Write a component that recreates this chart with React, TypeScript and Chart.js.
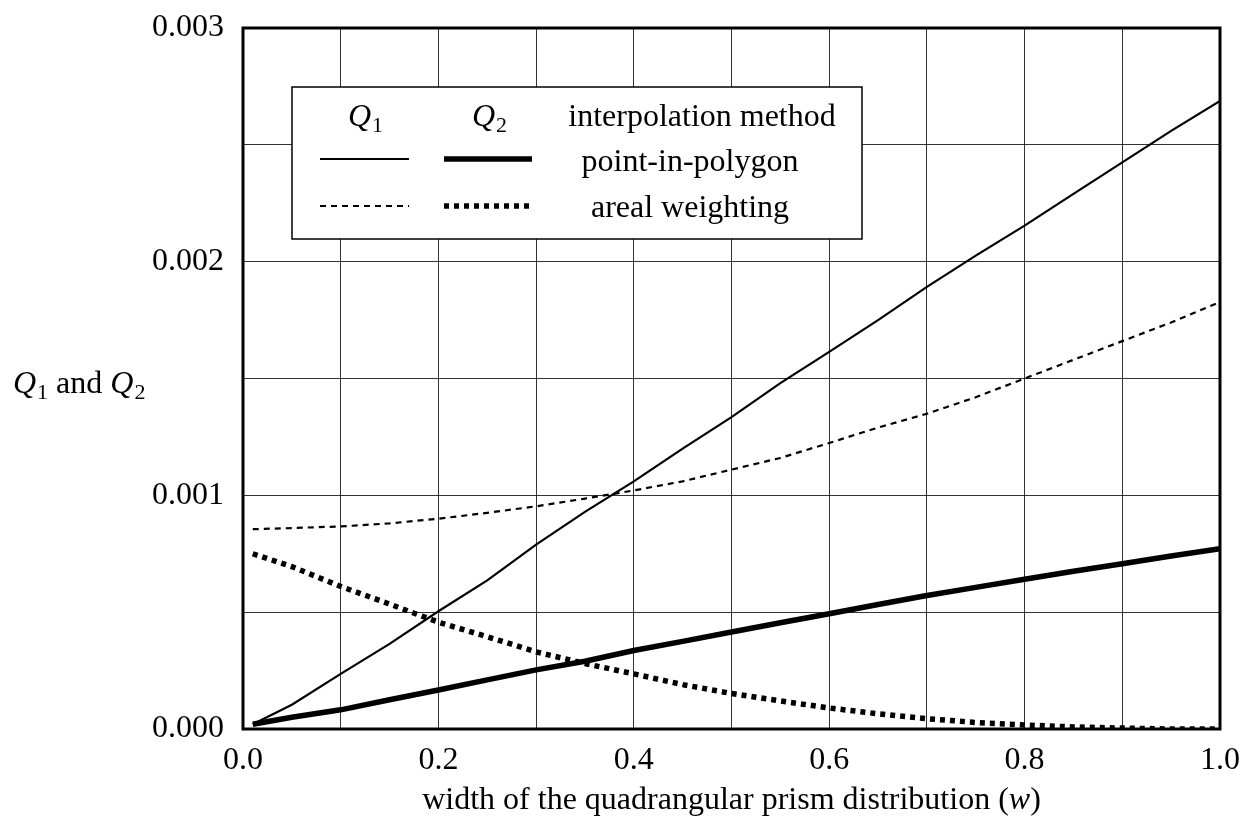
import React, { useEffect, useRef } from "react";
import { Chart, registerables } from "chart.js";

Chart.register(...registerables);

// Width of the quadrangular prism distribution (w)
const wValues = [
  0.01, 0.05, 0.1, 0.15, 0.2, 0.25, 0.3, 0.35, 0.4, 0.45, 0.5,
  0.55, 0.6, 0.65, 0.7, 0.75, 0.8, 0.85, 0.9, 0.95, 1.0,
];

// Q1, point-in-polygon interpolation
const q1PointInPolygon = [
  0.00002, 0.000104, 0.000236, 0.000364, 0.000504, 0.000636, 0.000789, 0.000929,
  0.00106, 0.0012, 0.001335, 0.00148, 0.001614, 0.00175, 0.001892, 0.002026,
  0.002154, 0.00229, 0.002425, 0.00256, 0.002688,
];

// Q2, point-in-polygon interpolation
const q2PointInPolygon = [
  0.00002, 0.00005, 0.000082, 0.000125, 0.000167, 0.00021, 0.000253, 0.00029,
  0.000336, 0.000375, 0.000415, 0.000455, 0.000493, 0.000533, 0.000571, 0.000606,
  0.000641, 0.000675, 0.000707, 0.00074, 0.000771,
];

// Q1, areal weighting interpolation
const q1ArealWeighting = [
  0.000855, 0.00086, 0.000867, 0.00088, 0.0009, 0.000925, 0.000953, 0.000986,
  0.001021, 0.00106, 0.00111, 0.00116, 0.001224, 0.00129, 0.001349, 0.00142,
  0.0015, 0.00158, 0.00166, 0.00174, 0.001827,
];

// Q2, areal weighting interpolation
const q2ArealWeighting = [
  0.00075, 0.000695, 0.00061, 0.000535, 0.000457, 0.000395, 0.00033, 0.00028,
  0.000236, 0.00019, 0.000152, 0.00012, 0.00009, 0.000065, 0.000044, 0.000028,
  0.000017, 0.000009, 0.000004, 0.0, 0.0,
];

const xTickLabels = ["0.0", "0.2", "0.4", "0.6", "0.8", "1.0"];
const yTickLabels = ["0.000", "0.001", "0.002", "0.003"];

const SERIF = "'Liberation Serif', 'Times New Roman', serif";
const FONT_SIZE = 32;

const toPoints = (ys: number[]) => wValues.map((x, i) => ({ x, y: ys[i] }));

// Draws text made of runs: [text, italic, subscript]
function drawRuns(
  ctx: CanvasRenderingContext2D,
  runs: [string, boolean, boolean][],
  x: number,
  baseline: number,
  align: "left" | "center"
) {
  const fontFor = (italic: boolean, sub: boolean) =>
    `${italic ? "italic " : ""}${sub ? 22 : FONT_SIZE}px ${SERIF}`;
  let total = 0;
  for (const [t, it, sub] of runs) {
    ctx.font = fontFor(it, sub);
    total += ctx.measureText(t).width;
  }
  let cx = align === "center" ? x - total / 2 : x;
  ctx.textAlign = "left";
  ctx.textBaseline = "alphabetic";
  for (const [t, it, sub] of runs) {
    ctx.font = fontFor(it, sub);
    ctx.fillText(t, cx + (sub ? 1 : 0), baseline + (sub ? 6 : 0));
    cx += ctx.measureText(t).width + (sub ? 1 : 0);
  }
}

const decorPlugin = {
  id: "decor",
  afterDatasetsDraw(chart: any) {
    const { ctx, chartArea } = chart;
    const { left, top, right, bottom } = chartArea;
    ctx.save();
    ctx.fillStyle = "#000";
    ctx.strokeStyle = "#000";

    // Frame around the plot area
    ctx.lineWidth = 3;
    ctx.strokeRect(left, top, right - left, bottom - top);

    // Legend box
    const bx = 292, by = 87, bw = 570, bh = 152;
    ctx.fillStyle = "#fff";
    ctx.fillRect(bx, by, bw, bh);
    ctx.lineWidth = 1.5;
    ctx.strokeRect(bx, by, bw, bh);
    ctx.fillStyle = "#000";

    drawRuns(ctx, [["Q", true, false], ["1", false, true]], 365, 126, "center");
    drawRuns(ctx, [["Q", true, false], ["2", false, true]], 489, 126, "center");
    drawRuns(ctx, [["interpolation method", false, false]], 702, 126, "center");
    drawRuns(ctx, [["point-in-polygon", false, false]], 690, 171, "center");
    drawRuns(ctx, [["areal weighting", false, false]], 690, 217, "center");

    const sample = (x1: number, x2: number, y: number, w: number, dash: number[]) => {
      ctx.beginPath();
      ctx.lineWidth = w;
      ctx.lineCap = "butt";
      ctx.setLineDash(dash);
      ctx.moveTo(x1, y);
      ctx.lineTo(x2, y);
      ctx.stroke();
      ctx.setLineDash([]);
    };
    sample(320, 409, 159, 2.2, []);
    sample(444, 532, 159, 5.5, []);
    sample(320, 409, 206, 2.2, [6, 5]);
    sample(444, 532, 206, 5.5, [5, 5]);

    // Axis titles
    drawRuns(
      ctx,
      [
        ["Q", true, false],
        ["1", false, true],
        [" and ", false, false],
        ["Q", true, false],
        ["2", false, true],
      ],
      13,
      393,
      "left"
    );
    drawRuns(
      ctx,
      [
        ["width of the quadrangular prism distribution (", false, false],
        ["w", true, false],
        [")", false, false],
      ],
      (left + right) / 2,
      809,
      "center"
    );
    ctx.restore();
  },
};

export default function App() {
  const canvasRef = useRef<HTMLCanvasElement | null>(null);

  useEffect(() => {
    if (!canvasRef.current) return;
    const chart = new Chart(canvasRef.current, {
      type: "line",
      data: {
        datasets: [
          {
            label: "Q1 point-in-polygon",
            data: toPoints(q1PointInPolygon),
            borderColor: "#000",
            borderWidth: 2.2,
            pointRadius: 0,
            tension: 0,
          },
          {
            label: "Q2 point-in-polygon",
            data: toPoints(q2PointInPolygon),
            borderColor: "#000",
            borderWidth: 5.5,
            pointRadius: 0,
            tension: 0,
          },
          {
            label: "Q1 areal weighting",
            data: toPoints(q1ArealWeighting),
            borderColor: "#000",
            borderWidth: 2.2,
            borderDash: [6, 5],
            pointRadius: 0,
            tension: 0,
          },
          {
            label: "Q2 areal weighting",
            data: toPoints(q2ArealWeighting),
            borderColor: "#000",
            borderWidth: 5.5,
            borderDash: [5, 5],
            borderCapStyle: "butt",
            pointRadius: 0,
            tension: 0,
          },
        ],
      },
      options: {
        responsive: false,
        animation: false,
        layout: { padding: { left: 0, right: 38, top: 28, bottom: 0 } },
        plugins: {
          legend: { display: false },
          tooltip: { enabled: false },
        },
        scales: {
          x: {
            type: "linear",
            min: 0,
            max: 1,
            afterFit: (scale: any) => {
              scale.height = 95;
              scale.paddingLeft = 0;
              scale.paddingRight = 0;
            },
            ticks: {
              stepSize: 0.1,
              maxRotation: 0,
              autoSkip: false,
              padding: 12,
              color: "#000",
              font: { family: SERIF, size: FONT_SIZE },
              callback: (v: any) => {
                const i = Math.round(Number(v) * 10);
                return i % 2 === 0 ? xTickLabels[i / 2] : "";
              },
            },
            grid: { color: "rgba(0,0,0,0.8)", lineWidth: 1, drawTicks: false },
            border: { display: false },
          },
          y: {
            type: "linear",
            min: 0,
            max: 0.003,
            afterFit: (scale: any) => {
              scale.width = 243;
              scale.paddingTop = 0;
              scale.paddingBottom = 0;
            },
            ticks: {
              stepSize: 0.0005,
              autoSkip: false,
              padding: 19,
              color: "#000",
              font: { family: SERIF, size: FONT_SIZE },
              callback: (v: any) => {
                const i = Math.round(Number(v) / 0.0005);
                return i % 2 === 0 ? yTickLabels[i / 2] : "";
              },
            },
            grid: { color: "rgba(0,0,0,0.8)", lineWidth: 1, drawTicks: false },
            border: { display: false },
          },
        },
      },
      plugins: [decorPlugin],
    });
    return () => chart.destroy();
  }, []);

  return (
    <div style={{ position: "absolute", left: 0, top: 0, width: 1258, height: 824, background: "#fff" }}>
      <canvas ref={canvasRef} width={1258} height={824} />
    </div>
  );
}
